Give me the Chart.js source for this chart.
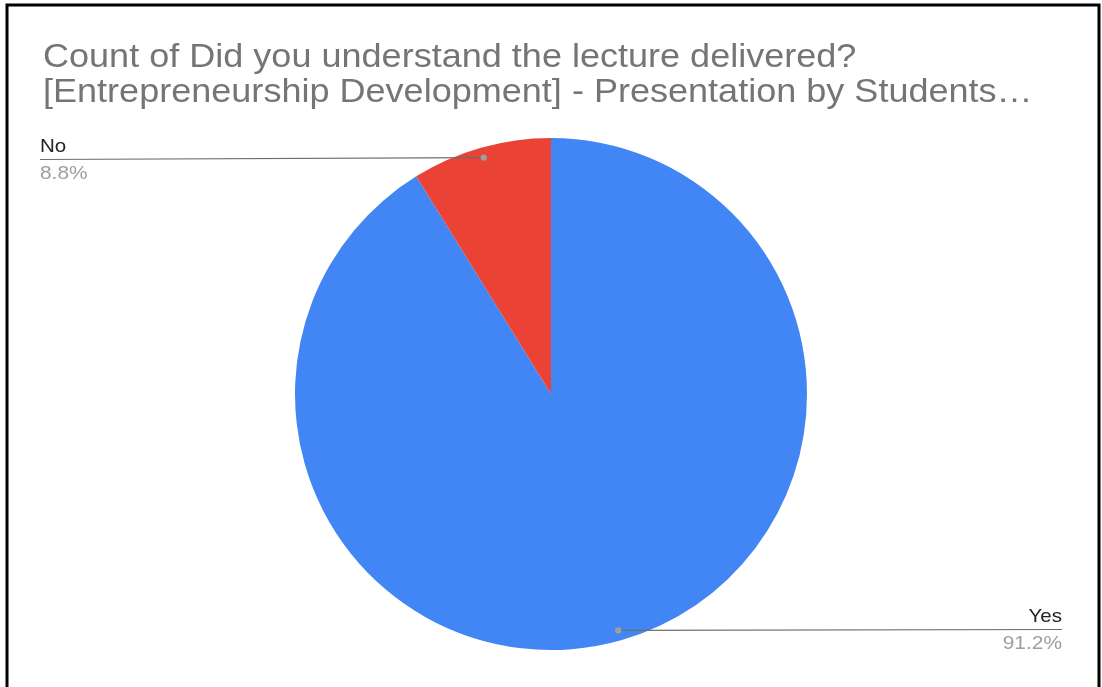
<!DOCTYPE html>
<html>
<head>
<meta charset="utf-8">
<script src="https://cdn.jsdelivr.net/npm/chart.js@4/dist/chart.umd.min.js"></script>
<style>
  html, body { margin: 0; padding: 0; background: #ffffff; }
  canvas { display: block; }
</style>
</head>
<body>
<canvas id="c" width="1102" height="687"></canvas>
<script>
const titleLines = [
  'Count of Did you understand the lecture delivered?',
  '[Entrepreneurship Development] - Presentation by Students\u2026'
];
const categories = ['Yes', 'No'];
const counts = [31, 3];
const sliceColors = ['#4285f4', '#ea4335'];

const total = counts.reduce((a, b) => a + b, 0);
const percentLabels = counts.map(v => (v / total * 100).toFixed(1) + '%');

const FONT = '"Liberation Sans", Arial, sans-serif';

function drawText(ctx, text, x, y, align, sx) {
  ctx.save();
  ctx.translate(x, y);
  ctx.scale(sx, 1);
  ctx.textAlign = align;
  ctx.textBaseline = 'alphabetic';
  ctx.fillText(text, 0, 0);
  ctx.restore();
}

const decor = {
  id: 'decor',
  afterDraw(chart) {
    const ctx = chart.ctx;
    ctx.save();
    // frame
    ctx.strokeStyle = '#000000';
    ctx.lineWidth = 3;
    ctx.beginPath();
    ctx.moveTo(7, 687);
    ctx.lineTo(7, 5);
    ctx.lineTo(1099, 5);
    ctx.lineTo(1099, 687);
    ctx.stroke();

    // title
    ctx.fillStyle = '#757575';
    ctx.font = '34px ' + FONT;
    drawText(ctx, titleLines[0], 43, 67, 'left', 1.06);
    drawText(ctx, titleLines[1], 43, 102, 'left', 1.06);

    // leader lines and labels
    const meta = chart.getDatasetMeta(0);
    const layout = [
      { side: 'right', x: 1062, lineY: 629.5 },
      { side: 'left', x: 40, lineY: 159.5 }
    ];
    meta.data.forEach((arc, i) => {
      const mid = (arc.startAngle + arc.endAngle) / 2;
      const r = arc.outerRadius * 0.96;
      const px = arc.x + Math.cos(mid) * r;
      const py = arc.y + Math.sin(mid) * r;
      const L = layout[i];
      ctx.strokeStyle = '#6d6d6d';
      ctx.lineWidth = 1.2;
      ctx.beginPath();
      ctx.moveTo(px, py);
      ctx.lineTo(L.x, L.lineY);
      ctx.stroke();
      ctx.fillStyle = '#9e9e9e';
      ctx.beginPath();
      ctx.arc(px, py, 3.2, 0, Math.PI * 2);
      ctx.fill();

      const align = L.side === 'left' ? 'left' : 'right';
      ctx.font = '19px ' + FONT;
      ctx.fillStyle = '#222222';
      drawText(ctx, categories[i], L.x, L.lineY - 7.5, align, 1.08);
      ctx.fillStyle = '#9e9e9e';
      drawText(ctx, percentLabels[i], L.x, L.lineY + 19.5, align, 1.1);
    });
    ctx.restore();
  }
};

new Chart(document.getElementById('c'), {
  type: 'pie',
  data: {
    labels: categories,
    datasets: [{
      data: counts,
      backgroundColor: sliceColors,
      borderWidth: 0,
      hoverOffset: 0
    }]
  },
  options: {
    responsive: false,
    animation: false,
    layout: { padding: { left: 295, right: 295, top: 138, bottom: 37 } },
    plugins: {
      legend: { display: false },
      title: { display: false },
      tooltip: { enabled: false }
    }
  },
  plugins: [decor]
});
</script>
</body>
</html>
